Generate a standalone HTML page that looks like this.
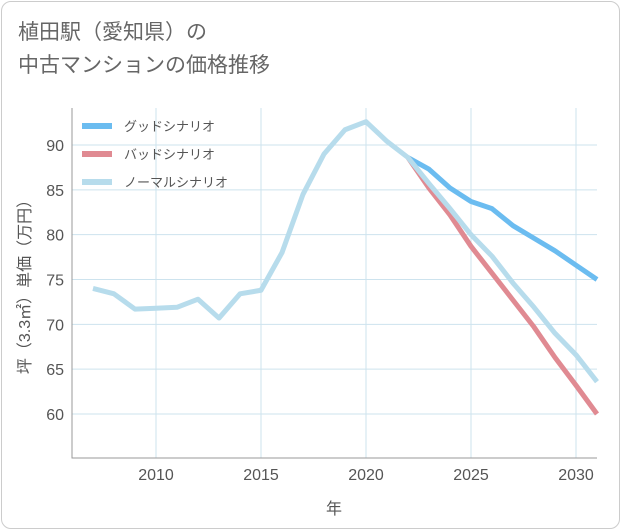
<!DOCTYPE html>
<html><head><meta charset="utf-8"><style>
body{margin:0;background:#fff;font-family:"Liberation Sans","Noto Sans CJK JP",sans-serif;}
#card{position:absolute;left:1px;top:1px;width:617px;height:526px;border:1px solid #ccc;border-radius:10px;background:#fff;}
#title{position:absolute;left:18px;top:16px;font-size:21px;line-height:33px;color:#666;}
</style></head><body>
<div id="card"></div>
<div id="title">植田駅（愛知県）の<br>中古マンションの価格推移</div>
<svg id="chart" width="621" height="530" style="position:absolute;left:0;top:0"></svg>
<script>
const yearsNormal=[2007,2008,2009,2010,2011,2012,2013,2014,2015,2016,2017,2018,2019,2020,2021,2022,2023,2024,2025,2026,2027,2028,2029,2030,2031];
const valuesNormal=[74.0,73.4,71.7,71.8,71.9,72.8,70.7,73.4,73.8,78.0,84.5,89.0,91.7,92.6,90.4,88.6,85.7,82.9,80.0,77.6,74.6,71.9,69.0,66.6,63.6];
const yearsFuture=[2022,2023,2024,2025,2026,2027,2028,2029,2030,2031];
const valuesGood=[88.6,87.3,85.2,83.7,82.9,81.0,79.6,78.2,76.6,75.0];
const valuesBad=[88.6,85.2,82.2,78.7,75.7,72.7,69.7,66.3,63.2,60.0];
const xTicks=[2010,2015,2020,2025,2030];
const yTicks=[60,65,70,75,80,85,90];
const svg=document.getElementById('chart');
const NS='http://www.w3.org/2000/svg';
const L=72,R=597,T=108,B=458;
const x=v=>156+(v-2010)*21;
const y=v=>414-(v-60)*(269/30);
function mk(tag,attrs,parent){const e=document.createElementNS(NS,tag);for(const k in attrs)e.setAttribute(k,attrs[k]);(parent||svg).appendChild(e);return e;}
yTicks.forEach(t=>{
  const g=mk('line',{x1:L,x2:R,y1:y(t),y2:y(t),stroke:'#cde3ee','stroke-width':1});
  
  
  const tx=mk('text',{x:L-8,y:y(t)+6,'text-anchor':'end','font-size':16,fill:'#555'});
  tx.textContent=t;
  
  
});
xTicks.forEach(t=>{
  const g=mk('line',{x1:x(t),x2:x(t),y1:T,y2:B,stroke:'#cde3ee','stroke-width':1});
  
  
  const tx=mk('text',{x:x(t),y:B+22,'text-anchor':'middle','font-size':16,fill:'#555'});
  tx.textContent=t;
  
  
});
const ax=mk('path',{d:`M${L},${T}V${B}H${R}`,fill:'none',stroke:'#999','stroke-width':1});


function line(xs,vs,color,name){
  const p=mk('polyline',{points:xs.map((a,i)=>x(a)+','+y(vs[i])).join(' '),fill:'none',stroke:color,'stroke-width':5,'stroke-linejoin':'round','stroke-linecap':'butt'});
  
  
}
line(yearsFuture,valuesGood,'#6bbcf0','good-scenario-line');
line(yearsFuture,valuesBad,'#e08a92','bad-scenario-line');
line(yearsNormal,valuesNormal,'#b7dcec','normal-scenario-line');
const leg=[['グッドシナリオ','#6bbcf0'],['バッドシナリオ','#e08a92'],['ノーマルシナリオ','#b7dcec']];
leg.forEach((l,i)=>{
  const yy=126+i*28;
  const s=mk('line',{x1:82,x2:112,y1:yy,y2:yy,stroke:l[1],'stroke-width':6});
  
  
  const t=mk('text',{x:124,y:yy+5,'font-size':13,fill:'#555'});
  t.textContent=l[0];
  
  
});
const xt=mk('text',{x:334,y:514,'text-anchor':'middle','font-size':16,fill:'#555'});
xt.textContent='年';


const yt=mk('text',{x:0,y:0,'text-anchor':'middle','font-size':16,fill:'#555',transform:'translate(30,283) rotate(-90)'});
yt.textContent='坪（3.3㎡）単価（万円）';


</script>
</body></html>
